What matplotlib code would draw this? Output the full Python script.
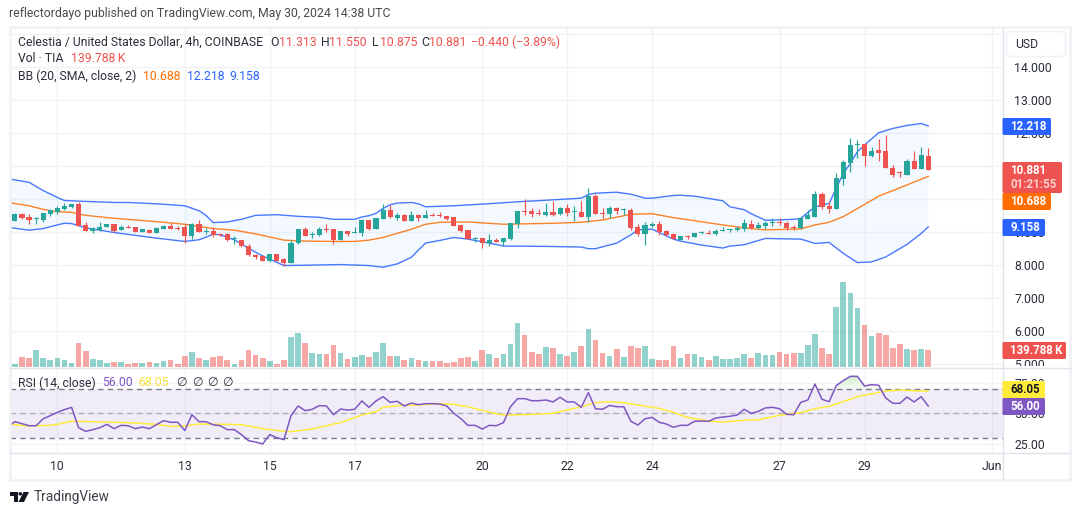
import numpy as np
import matplotlib
matplotlib.use('Agg')
import matplotlib.pyplot as plt
from matplotlib.patches import Rectangle, FancyBboxPatch, Polygon, Circle
from matplotlib.transforms import Bbox

W, H = 1080, 515

plt.rcParams['font.family'] = ['Roboto', 'DejaVu Sans']

UP = '#26a69a'
DOWN = '#ef5350'
BLUE = '#2962ff'
ORANGE = '#ff6d00'
PURPLE = '#7e57c2'
YELLOW = '#ffeb3b'
GRID = '#f0f2f6'
EDGE = '#e0e3eb'
TEXT = '#2a2e39'

# 4h candles, bar 0 is May 10 00:00
first_bar = -7
opens = [9.57, 9.35, 9.55, 9.45, 9.40, 9.37, 9.55, 9.62, 9.70, 9.76, 9.86, 9.22, 9.04, 9.06, 9.16, 9.25, 9.07, 9.17, 9.16, 9.02,
         9.07, 8.99, 9.11, 9.18, 9.13, 9.16, 8.89, 9.25, 9.02, 9.03, 8.95, 8.95, 8.80, 8.76, 8.59, 8.31, 8.29, 8.13, 8.34, 8.19,
         8.07, 8.68, 9.10, 8.90, 8.92, 9.09, 9.10, 8.77, 9.04, 8.99, 8.98, 9.37, 9.10, 9.40, 9.67, 9.42, 9.52, 9.34, 9.52, 9.43,
         9.52, 9.52, 9.49, 9.46, 9.22, 9.07, 8.80, 8.83, 8.66, 8.77, 8.71, 8.80, 9.25, 9.65, 9.64, 9.58, 9.52, 9.61, 9.55, 9.74,
         9.62, 9.61, 9.46, 10.10, 9.58, 9.55, 9.74, 9.68, 9.67, 9.16, 8.95, 9.19, 9.25, 9.04, 8.95, 8.77, 8.88, 8.85, 8.97, 8.97,
         8.94, 9.03, 9.06, 9.06, 9.09, 9.25, 9.12, 9.19, 9.28, 9.31, 9.28, 9.17, 9.12, 9.40, 9.46, 10.15, 9.79, 9.70, 10.61, 11.09,
         11.64, 11.67, 11.31, 11.49, 11.46, 10.94, 10.81, 10.73, 11.15, 10.91, 11.313]
highs = [9.57, 9.57, 9.58, 9.55, 9.45, 9.59, 9.70, 9.78, 9.88, 9.86, 9.92, 9.30, 9.15, 9.30, 9.25, 9.25, 9.22, 9.22, 9.16, 9.10,
         9.11, 9.15, 9.22, 9.29, 9.19, 9.24, 9.29, 9.37, 9.13, 9.15, 8.99, 8.97, 8.89, 8.76, 8.65, 8.35, 8.30, 8.34, 8.34, 8.22,
         8.76, 9.10, 9.15, 9.01, 9.15, 9.25, 9.10, 9.04, 9.04, 9.16, 9.40, 9.37, 9.44, 9.86, 9.82, 9.58, 9.55, 9.64, 9.55, 9.67,
         9.58, 9.60, 9.49, 9.46, 9.22, 9.07, 8.86, 8.83, 8.95, 8.83, 8.83, 9.28, 9.64, 10.00, 9.74, 9.70, 9.89, 9.95, 9.77, 9.86,
         9.80, 9.95, 10.34, 10.16, 9.74, 9.80, 9.77, 9.74, 9.74, 9.25, 9.31, 9.31, 9.34, 9.07, 8.98, 8.89, 8.91, 8.97, 9.04, 9.06,
         9.09, 9.15, 9.09, 9.19, 9.40, 9.37, 9.31, 9.34, 9.43, 9.43, 9.34, 9.22, 9.45, 9.67, 10.25, 10.22, 9.91, 10.79, 11.19, 11.85,
         11.79, 11.70, 11.58, 11.82, 11.94, 11.03, 10.85, 11.22, 11.46, 11.58, 11.55]
lows = [9.35, 9.35, 9.41, 9.26, 9.26, 9.31, 9.49, 9.55, 9.675, 9.74, 9.19, 9.03, 8.98, 9.05, 9.16, 9.01, 9.07, 9.13, 9.01, 9.02,
        8.98, 8.98, 9.10, 9.10, 9.07, 8.66, 8.80, 9.00, 8.96, 8.86, 8.87, 8.74, 8.65, 8.56, 8.28, 8.19, 8.12, 8.10, 8.12, 7.99,
        8.07, 8.65, 8.88, 8.83, 8.89, 9.00, 8.65, 8.77, 8.87, 8.98, 8.89, 9.07, 9.10, 9.39, 9.42, 9.37, 9.33, 9.34, 9.34, 9.42,
        9.49, 9.46, 9.37, 9.19, 9.01, 8.79, 8.71, 8.52, 8.59, 8.71, 8.58, 8.77, 9.13, 9.52, 9.46, 9.52, 9.49, 9.49, 9.52, 9.49,
        9.34, 9.46, 9.31, 9.55, 9.43, 9.43, 9.55, 9.52, 9.07, 8.89, 8.62, 9.16, 8.92, 8.89, 8.80, 8.77, 8.79, 8.85, 8.94, 8.94,
        8.91, 9.03, 9.00, 9.03, 9.03, 9.09, 9.09, 9.09, 9.19, 9.22, 9.08, 9.08, 9.09, 9.40, 9.46, 9.70, 9.58, 9.70, 10.43, 10.82,
        11.25, 11.00, 11.28, 11.15, 10.94, 10.67, 10.67, 10.73, 10.91, 10.91, 10.875]
closes = [9.35, 9.54, 9.43, 9.37, 9.42, 9.57, 9.66, 9.74, 9.80, 9.85, 9.20, 9.05, 9.13, 9.16, 9.25, 9.04, 9.16, 9.14, 9.02, 9.10,
          8.99, 9.13, 9.19, 9.10, 9.11, 8.89, 9.25, 9.01, 9.04, 8.91, 8.92, 8.77, 8.82, 8.57, 8.31, 8.25, 8.13, 8.34, 8.13, 8.07,
          8.68, 9.10, 8.89, 8.96, 9.10, 9.06, 8.77, 9.03, 8.95, 9.01, 9.37, 9.11, 9.43, 9.67, 9.46, 9.52, 9.34, 9.52, 9.42, 9.52,
          9.49, 9.49, 9.40, 9.19, 9.04, 8.79, 8.83, 8.66, 8.77, 8.71, 8.83, 9.28, 9.64, 9.62, 9.55, 9.55, 9.61, 9.52, 9.74, 9.58,
          9.64, 9.46, 10.10, 9.55, 9.56, 9.74, 9.64, 9.70, 9.13, 8.95, 9.22, 9.25, 9.01, 8.92, 8.80, 8.89, 8.85, 8.97, 9.00, 8.94,
          9.03, 9.06, 9.09, 9.14, 9.28, 9.12, 9.22, 9.28, 9.31, 9.28, 9.12, 9.14, 9.43, 9.52, 10.15, 9.76, 9.70, 10.64, 11.12, 11.64,
          11.67, 11.31, 11.46, 11.40, 10.94, 10.73, 10.79, 11.15, 10.91, 11.34, 10.881]

# Volume in thousands of TIA
volumes = [75, 27, 83, 75, 140, 75, 59, 75, 59, 35, 196, 132, 67, 59, 35, 43, 43, 27, 35, 35,
           43, 35, 51, 59, 27, 91, 124, 75, 59, 83, 91, 59, 27, 59, 140, 99, 75, 51, 27, 59,
           245, 277, 196, 116, 108, 108, 180, 116, 65, 81, 97, 81, 121, 194, 89, 89, 56, 73, 56, 48,
           48, 48, 32, 40, 73, 81, 48, 137, 105, 73, 105, 185, 355, 258, 121, 105, 161, 153, 105, 89,
           121, 169, 306, 218, 113, 89, 145, 81, 169, 153, 169, 65, 56, 56, 169, 73, 105, 105, 81, 56,
           89, 65, 65, 73, 105, 73, 113, 97, 97, 121, 105, 113, 113, 177, 266, 153, 105, 484, 685, 597,
           476, 339, 250, 274, 258, 153, 185, 145, 137, 145, 139.788]

# Bollinger bands, values at the bars where the lines turn
upper_idx = [-7, -4, -2, 0, 1, 3, 8, 10, 14, 18, 20, 21, 22, 24, 26, 28, 31, 34, 37, 39, 42, 43, 44, 45, 46, 47, 48, 50, 51, 52, 56, 60,
             65, 70, 74, 75, 76, 79, 81, 83, 84, 87, 88, 90, 94, 95, 97, 98, 100, 104, 105, 107, 109, 110, 111, 112, 113, 114, 116,
             118, 120, 122, 123]
upper_band = [10.62, 10.51, 10.26, 10.05, 9.96, 9.94, 9.90, 9.90, 9.86, 9.80, 9.65, 9.51, 9.29, 9.31, 9.39, 9.51, 9.53, 9.48, 9.45, 9.39,
              9.39, 9.46, 9.50, 9.57, 9.72, 9.83, 9.88, 9.90, 9.86, 9.77, 9.80, 9.85, 9.92, 9.98, 10.03, 10.14, 10.18, 10.21, 10.15,
              10.03, 10.03, 10.11, 10.12, 10.09, 9.95, 9.77, 9.68, 9.56, 9.36, 9.39, 9.42, 9.77, 9.87, 10.33, 10.78, 11.08, 11.44,
              11.64, 12.01, 12.14, 12.23, 12.29, 12.218]
basis_idx = [-7, -4, -2, 0, 2, 4, 8, 14, 18, 22, 25, 28, 32, 35, 39, 42, 44, 46, 50, 52, 54, 58, 63, 70, 74, 77, 81, 84, 87, 88, 94, 97,
             100, 105, 107, 109, 111, 114, 116, 120, 123]
basis_band = [9.90, 9.80, 9.69, 9.62, 9.60, 9.51, 9.42, 9.32, 9.24, 9.11, 9.06, 8.95, 8.76, 8.73, 8.72, 8.72, 8.76, 8.84, 9.09, 9.24, 9.30,
              9.31, 9.24, 9.27, 9.30, 9.37, 9.54, 9.56, 9.44, 9.41, 9.22, 9.13, 9.07, 9.10, 9.22, 9.30, 9.47, 9.84, 10.09, 10.43, 10.688]
lower_idx = [-7, -4, -2, 0, 1, 2, 4, 8, 14, 18, 20, 21, 22, 23, 25, 27, 29, 32, 35, 40, 44, 46, 48, 50, 51, 52, 54, 56, 58, 61, 63, 69,
             74, 75, 76, 79, 81, 82, 84, 85, 87, 88, 91, 94, 95, 97, 100, 105, 107, 109, 111, 113, 115, 117, 120, 122, 123]
lower_band = [9.15, 9.06, 9.11, 9.22, 9.27, 9.26, 9.13, 8.99, 8.82, 8.72, 8.77, 8.85, 8.94, 8.92, 8.77, 8.51, 8.28, 7.99, 8.00, 8.02, 7.99,
              7.94, 8.04, 8.24, 8.46, 8.67, 8.75, 8.84, 8.79, 8.67, 8.58, 8.57, 8.55, 8.50, 8.50, 8.67, 8.92, 9.07, 9.09, 8.99, 8.79,
              8.73, 8.61, 8.52, 8.58, 8.62, 8.81, 8.79, 8.66, 8.69, 8.36, 8.08, 8.10, 8.25, 8.63, 8.96, 9.158]

rsi = [39.1, 43.2, 41.6, 39.9, 39.9, 45.6, 48.1, 50.8, 53.0, 54.9, 38.3, 35.3, 36.7, 38.3, 41.0, 37.5, 40.2, 39.9, 37.5, 38.8,
       37.5, 40.7, 44.0, 42.7, 42.7, 35.9, 48.9, 43.2, 43.2, 40.7, 39.9, 36.7, 36.7, 32.6, 27.7, 26.6, 25.0, 32.6, 30.1, 28.5,
       48.1, 56.0, 52.2, 53.3, 56.3, 56.0, 48.9, 53.5, 52.7, 53.3, 60.1, 54.9, 60.1, 63.6, 59.0, 59.8, 56.0, 58.4, 57.1, 57.9,
       57.9, 57.6, 56.0, 50.0, 45.6, 40.2, 40.2, 37.2, 40.2, 39.9, 42.4, 55.4, 62.0, 62.0, 60.3, 60.3, 60.9, 59.3, 63.1, 59.3,
       59.3, 54.9, 66.9, 53.8, 53.3, 56.5, 55.4, 55.4, 43.5, 40.5, 45.6, 46.7, 42.7, 41.3, 38.6, 40.2, 40.2, 43.5, 43.7, 43.5,
       46.2, 47.0, 47.6, 48.6, 53.3, 50.0, 51.6, 54.4, 54.9, 53.8, 49.2, 48.9, 59.0, 60.9, 73.9, 61.4, 59.5, 72.6, 76.7, 80.2,
       80.2, 72.3, 73.4, 72.9, 62.5, 58.2, 58.2, 63.3, 59.3, 63.6, 56.0]

rsi_ma_idx = [-7, -4, -1, 0, 2, 5, 10, 14, 16, 18, 20, 24, 26, 29, 32, 33, 36, 40, 43, 45, 46, 48, 51, 54, 56, 58, 60, 62, 63, 66, 70, 74,
              76, 78, 80, 82, 85, 87, 88, 89, 92, 94, 97, 99, 102, 105, 107, 109, 111, 113, 115, 117, 119, 121, 123]
rsi_ma = [41.3, 39.7, 40.2, 41.0, 43.5, 43.2, 42.4, 41.0, 39.4, 39.7, 41.3, 41.0, 40.7, 37.5, 35.3, 35.0, 37.2, 42.5, 48.6, 51.4, 54.9,
          56.3, 56.8, 57.9, 57.3, 55.4, 52.4, 49.7, 48.6, 48.9, 50.0, 55.4, 58.7, 59.5, 58.7, 56.8, 54.1, 50.8, 48.6, 46.7, 43.7, 42.9,
          44.3, 44.8, 48.4, 50.5, 53.8, 55.7, 59.5, 63.6, 65.8, 68.2, 69.0, 68.5, 68.05]

price_ticks = [14, 13, 12, 11, 10, 9, 8, 7, 6, 5]
rsi_ticks = [75, 50, 25]
time_ticks = [0, 18, 30, 42, 60, 72, 84, 102, 114, 132]
time_labels = ['10', '13', '15', '17', '20', '22', '24', '27', '29', 'Jun']


def pane(fig, left, top, right, bottom):
    # Axes placed from pixel edges, y counted from the top of the figure
    return fig.add_axes([left / W, 1 - bottom / H, (right - left) / W, (bottom - top) / H])


def style_pane(ax):
    for side in ax.spines.values():
        side.set_visible(False)
    ax.set_axisbelow(True)
    ax.grid(True, color=GRID, linewidth=1)
    ax.yaxis.tick_right()
    ax.tick_params(axis='both', length=0, labelsize=8.8, labelcolor=TEXT)
    ax.tick_params(axis='y', pad=8)


fig = plt.figure(figsize=(W / 100, H / 100), dpi=100, facecolor='white')

bars = np.arange(first_bar, first_bar + len(opens))
xlim = (-6.69, 133.56)

# Price pane
ax = pane(fig, 10, 28, 1003, 367)
style_pane(ax)
ax.set_xlim(*xlim)
ax.set_ylim(4.92, 15.18)
ax.set_xticks(time_ticks)
ax.set_yticks(price_ticks)
ax.set_yticklabels([f'{p:.3f}' for p in price_ticks])
ax.tick_params(axis='x', labelbottom=False)
ax.hlines(15, *xlim, color=GRID, linewidth=1, zorder=0)

ax.fill(np.r_[upper_idx, lower_idx[::-1]], np.r_[upper_band, lower_band[::-1]],
        color='#2196f3', alpha=0.05, linewidth=0, zorder=1)
ax.plot(upper_idx, upper_band, color=BLUE, linewidth=1, alpha=0.85, zorder=2)
ax.plot(lower_idx, lower_band, color=BLUE, linewidth=1, alpha=0.85, zorder=2)
ax.plot(basis_idx, basis_band, color=ORANGE, linewidth=1, alpha=0.85, zorder=2)

colors = [UP if c >= o else DOWN for o, c in zip(opens, closes)]
ax.vlines(bars, lows, highs, colors=colors, linewidth=0.85, zorder=3)
ax.bar(bars, np.abs(np.subtract(closes, opens)), bottom=np.minimum(opens, closes),
       width=0.72, color=colors, linewidth=0, zorder=4)

# Volume shares the pane, scaled so the tallest bars stay low
vol = ax.twinx()
vol.set_ylim(0, 2734)
vol.set_xlim(*xlim)
vol.axis('off')
vol.bar(bars, volumes, width=0.8, color=colors, alpha=0.5, linewidth=0)

# twinx moves the price scale to the left, put it back
ax.yaxis.tick_right()
ax.tick_params(axis='y', length=0, pad=8)

# The lowest price label is cut by the pane edge
price_labels_box = Bbox.from_extents(1003, H - 366, 1070, H - 28)
for tick_label in ax.get_yticklabels():
    tick_label.set_clip_box(price_labels_box)
    tick_label.set_clip_on(True)

# RSI pane
rs = pane(fig, 10, 368, 1003, 452)
style_pane(rs)
rs.set_xlim(*xlim)
rs.set_ylim(18.45, 87)
rs.set_xticks(time_ticks)
rs.set_xticklabels(time_labels)
rs.set_yticks(rsi_ticks)
rs.set_yticklabels([f'{v:.2f}' for v in rsi_ticks])
rs.tick_params(axis='x', pad=6)

rs.axhspan(30, 70, color=PURPLE, alpha=0.1, linewidth=0)
rs.axhline(70, color='#787b86', linewidth=1, linestyle=(0, (4, 3)))
rs.axhline(50, color='#787b86', linewidth=1, linestyle=(0, (4, 3)), alpha=0.5)
rs.axhline(30, color='#787b86', linewidth=1, linestyle=(0, (4, 3)))

# Overbought area fades out towards the 70 level
rsi_bars = np.arange(first_bar, first_bar + len(rsi))
shade = rs.imshow(np.linspace(0.32, 0.02, 64).reshape(-1, 1), extent=(105, 118, 70, 81), origin='upper',
                  aspect='auto', cmap='Greens', vmin=0, vmax=1, alpha=0.7, zorder=1)
keep = rsi_bars >= 110
top_x = np.r_[109.8, rsi_bars[keep][:6], 116.2]
top_y = np.r_[70, np.array(rsi)[keep][:6], 70]
clip = Polygon(np.c_[top_x, top_y], closed=True, transform=rs.transData)
shade.set_clip_path(clip)
rs.set_xlim(*xlim)
rs.set_ylim(18.45, 87)

rs.plot(rsi_ma_idx, rsi_ma, color=YELLOW, linewidth=1.1, zorder=3)
rs.plot(rsi_bars, rsi, color=PURPLE, linewidth=1.1, zorder=4)

# Frame, legends and price tags, laid out in figure pixels
ov = fig.add_axes([0, 0, 1, 1], zorder=10)
ov.set_xlim(0, W)
ov.set_ylim(H, 0)
ov.axis('off')
ov.patch.set_alpha(0)

ov.add_patch(Rectangle((9.5, 27), 1060.5, 453, fill=False, edgecolor=GRID, linewidth=2))
ov.plot([10, 1070], [367.5, 367.5], color=EDGE, linewidth=1)
ov.plot([10, 1070], [452.5, 452.5], color=EDGE, linewidth=1)
ov.plot([1002.5, 1002.5], [28, 479], color=EDGE, linewidth=1)


def label(x, y, s, color=TEXT, size=8.8, **kw):
    ov.text(x, y, s, color=color, fontsize=size, va='center', ha=kw.pop('ha', 'left'), **kw)


label(9, 14, 'reflectordayo published on TradingView.com, May 30, 2024 14:38 UTC', color='#4a4a4a', size=8.8)

label(18, 42, 'Celestia / United States Dollar, 4h, COINBASE')
for x, head, value in [(270.6, 'O', '11.313'), (320.7, 'H', '11.550'), (372, 'L', '10.875'), (421, 'C', '10.881')]:
    label(x, 42, head)
    label(x + 8, 42, value, color=DOWN)
label(471, 42, '\u22120.440 (\u22123.89%)', color=DOWN)

label(18, 59, 'Vol \u00b7 TIA')
label(71, 59, '139.788\u2009K', color=DOWN)

label(18, 76, 'BB (20, SMA, close, 2)')
label(143, 76, '10.688', color=ORANGE)
label(187, 76, '12.218', color=BLUE)
label(229, 76, '9.158', color=BLUE)

label(18, 383, 'RSI (14, close)')
label(102, 383, '56.00', color=PURPLE)
label(138, 383, '68.05', color='#f7e23a')
for x in [176, 192, 207, 222]:
    label(x, 383, '\u2205')

ov.add_patch(FancyBboxPatch((1006.5, 31.5), 59, 25, boxstyle='round,pad=0,rounding_size=4',
                            facecolor='white', edgecolor=GRID, linewidth=1.2))
label(1015, 44, 'USD')


def tag(top, bottom, right, color, s, text_color='white'):
    ov.add_patch(FancyBboxPatch((1002.5, top), right - 1002.5, bottom - top, boxstyle='round,pad=0,rounding_size=1.5',
                                facecolor=color, edgecolor='none', zorder=5))
    label(1010.5, (top + bottom) / 2, s, color=text_color, size=8.3, zorder=6, fontweight='bold')


tag(118, 135, 1051, BLUE, '12.218')
tag(162, 193, 1062, DOWN, '10.881')
ov.texts[-1].set_y(170.5)
ov.text(1010.5, 184.5, '01:21:55', color='#fbd0cf', fontsize=8.3, va='center', zorder=6, fontweight='bold')
tag(193, 210, 1051, ORANGE, '10.688')
tag(219, 236, 1045, BLUE, '9.158')
tag(342, 359, 1066, DOWN, '139.788\u2009K')
tag(381, 398, 1045, YELLOW, '68.05', text_color='#131722')
tag(398, 415, 1045, PURPLE, '56.00')

# TradingView mark under the chart
ov.add_patch(Polygon([(10, 492), (17.5, 492), (17.5, 502), (13.5, 502), (13.5, 495.5), (10, 495.5)], color='#131722', linewidth=0))
ov.add_patch(Circle((20.3, 493.8), 1.8, color='#131722', linewidth=0))
ov.add_patch(Polygon([(23.5, 492), (29, 492), (24, 502), (18.5, 502)], color='#131722', linewidth=0))
label(34, 497, 'TradingView', color='#3a3e48', size=9.8)

fig.savefig('out.png', dpi=100)
